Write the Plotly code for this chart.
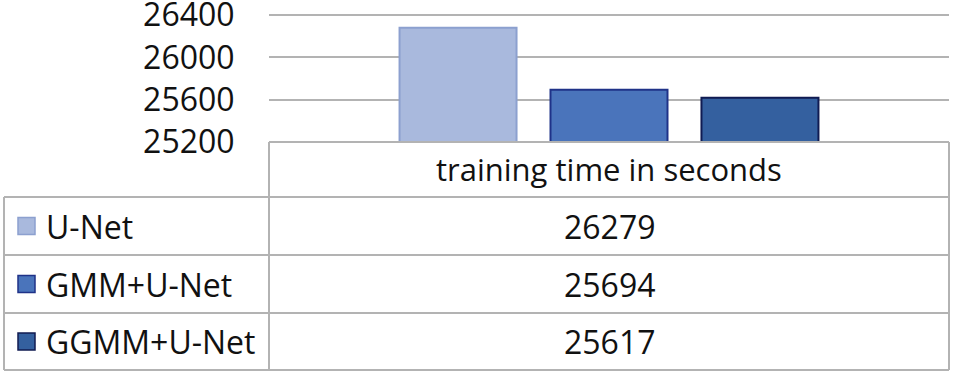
import plotly.graph_objects as go

# ---- data ----
series = ["U-Net", "GMM+U-Net", "GGMM+U-Net"]
category = ["training time in seconds"]
values = [26279, 25694, 25617]
y_ticks = [25200, 25600, 26000, 26400]

# ---- styles ----
fill_colors = ["#a9b9dd", "#4a74bb", "#34609f"]
line_colors = ["#8ca0cf", "#1f3288", "#101b52"]
FONT = "Open Sans"
FS = 32
TXT = "#111111"
GRID = "#b3b3b3"

W, H = 955, 375
def px(x): return x / W
def py(y): return 1 - y / H

fig = go.Figure()
for name, v, fc, lc in zip(series, values, fill_colors, line_colors):
    fig.add_trace(go.Bar(x=category, y=[v], name=name,
                         marker=dict(color=fc, line=dict(color=lc, width=2))))

# table geometry (pixels)
x_left, x_mid, x_right = 4, 269, 949
y_rows = [142, 197, 255, 313, 370]

shapes = []
def line(x0, y0, x1, y1):
    shapes.append(dict(type="line", xref="paper", yref="paper",
                       x0=px(x0), y0=py(y0), x1=px(x1), y1=py(y1),
                       line=dict(color=GRID, width=2)))

line(x_mid, y_rows[0], x_right, y_rows[0])
for yy in y_rows[1:]:
    line(x_left, yy, x_right, yy)
line(x_left, y_rows[1], x_left, y_rows[-1])
line(x_mid, y_rows[0], x_mid, y_rows[-1])
line(x_right, y_rows[0], x_right, y_rows[-1])

annotations = []
xc = (x_mid + x_right) / 2
annotations.append(dict(text=category[0], xref="paper", yref="paper",
                        x=px(xc), y=py((y_rows[0] + y_rows[1]) / 2),
                        xanchor="center", yanchor="middle", showarrow=False,
                        font=dict(family=FONT, size=31, color=TXT)))
for i, (name, v, fc, lc) in enumerate(zip(series, values, fill_colors, line_colors)):
    yc = (y_rows[i + 1] + y_rows[i + 2]) / 2
    annotations.append(dict(text=str(v), xref="paper", yref="paper",
                            x=px(xc), y=py(yc), xanchor="center", yanchor="middle",
                            showarrow=False, font=dict(family=FONT, size=FS, color=TXT)))
    annotations.append(dict(text=name, xref="paper", yref="paper",
                            x=px(44), y=py(yc), xanchor="left", yanchor="middle",
                            showarrow=False, font=dict(family=FONT, size=FS, color=TXT)))
    shapes.append(dict(type="rect", xref="paper", yref="paper",
                       x0=px(18), x1=px(35), y0=py(yc - 8.5), y1=py(yc + 8.5),
                       fillcolor=fc, line=dict(color=lc, width=1.5)))

# y axis: 25200 at y=142 px, 26400 at y=15 px; extend range slightly so top gridline is drawn
y_lo, y_hi = 25200, 26440
px_per_unit = (142 - 15) / (26400 - 25200)
top_px = 15 - (y_hi - 26400) * px_per_unit

fig.update_layout(
    width=W, height=H,
    margin=dict(l=0, r=0, t=0, b=0, pad=0, autoexpand=False),
    paper_bgcolor="white", plot_bgcolor="white",
    showlegend=False,
    barmode="group", bargap=0.334, bargroupgap=0.225,
    font=dict(family=FONT, size=FS, color=TXT),
    xaxis=dict(domain=[px(x_mid), px(x_right)], showticklabels=False,
               showgrid=False, zeroline=False, showline=False, automargin=False),
    yaxis=dict(domain=[py(142), py(top_px)], range=[y_lo, y_hi],
               tickvals=y_ticks, ticktext=[str(t) for t in y_ticks],
               showgrid=True, gridcolor=GRID, gridwidth=2,
               zeroline=False, showline=False, automargin=False,
               ticks="outside", ticklen=27, tickcolor="rgba(0,0,0,0)",
               ticklabeloverflow="allow",
               tickfont=dict(family=FONT, size=FS, color=TXT)),
    shapes=shapes, annotations=annotations,
)

fig.write_html("out.html", config={"displayModeBar": False},
               post_script="document.body.style.margin='0';document.body.style.overflow='hidden';")
